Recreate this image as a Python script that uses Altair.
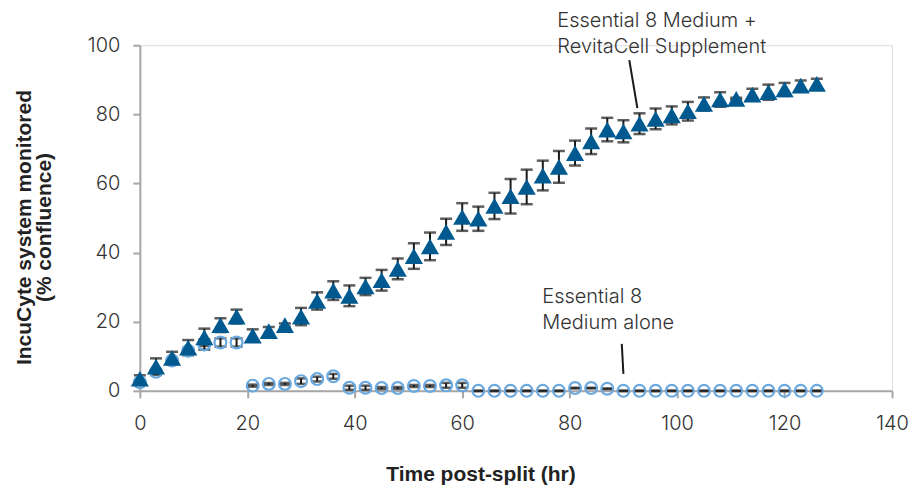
import altair as alt
import pandas as pd

hours = [0, 3, 6, 9, 12, 15, 18, 21, 24, 27, 30, 33, 36, 39, 42, 45, 48, 51, 54, 57, 60,
         63, 66, 69, 72, 75, 78, 81, 84, 87, 90, 93, 96, 99, 102, 105, 108, 111, 114, 117,
         120, 123, 126]

revita = [3.5, 7.0, 9.5, 12.5, 15.5, 19.0, 21.5, 16.0, 17.3, 19.0, 21.5, 26.0, 29.0, 27.5,
          30.2, 32.0, 35.3, 39.0, 41.8, 46.0, 50.3, 49.8, 53.5, 56.3, 59.0, 62.3, 64.8,
          68.8, 72.2, 75.6, 75.1, 77.3, 78.7, 79.7, 80.9, 83.0, 84.3, 84.5, 85.7, 86.4,
          87.2, 88.3, 88.8]
revita_err = [1.0, 2.4, 1.8, 2.2, 2.5, 2.0, 2.0, 1.8, 1.2, 0.5, 2.5, 2.5, 2.7, 3.0, 2.5,
              3.0, 3.0, 3.7, 4.0, 3.8, 4.0, 3.5, 3.8, 5.0, 5.0, 4.3, 4.6, 3.6, 3.7, 3.4,
              3.2, 3.0, 3.0, 2.6, 2.7, 1.9, 2.1, 0.3, 1.7, 2.2, 1.9, 1.5, 1.5]

alone = [2.5, 5.5, 8.8, 11.6, 13.4, 14.0, 14.0, 1.5, 2.0, 2.0, 2.8, 3.4, 4.2, 0.9, 0.9,
         0.8, 0.8, 1.4, 1.4, 1.6, 1.6, 0.0, 0.0, 0.0, 0.0, 0.0, 0.0, 0.8, 0.8, 0.6, 0.0,
         0.0, 0.0, 0.0, 0.0, 0.0, 0.0, 0.0, 0.0, 0.0, 0.0, 0.0, 0.0]
alone_err = [0.5, 0.5, 0.5, 0.8, 1.5, 1.2, 1.2, 0.3, 0.3, 0.3, 0.8, 0.7, 0.7, 0.6, 0.6,
             0.3, 0.3, 0.3, 0.3, 0.7, 0.7, 0.1, 0.1, 0.1, 0.1, 0.1, 0.1, 0.1, 0.1, 0.1,
             0.1, 0.1, 0.1, 0.1, 0.1, 0.1, 0.1, 0.1, 0.1, 0.1, 0.1, 0.1, 0.1]

ann_text = ["Essential 8 Medium +", "RevitaCell Supplement", "Essential 8", "Medium alone"]
ann_x = [77.7, 77.7, 74.9, 74.9]
ann_y = [106.9, 99.6, 27.2, 19.7]

lead_x = [91.1, 89.7]
lead_y = [95.7, 13.6]
lead_x2 = [92.6, 90.0]
lead_y2 = [81.8, 4.9]

LIGHT = "Inter"
BOLD = "Liberation Sans"

df_r = pd.DataFrame({"t": hours, "v": revita, "e": revita_err})
df_a = pd.DataFrame({"t": hours, "v": alone, "e": alone_err})
for d in (df_r, df_a):
    d["lo"] = d["v"] - d["e"]
    d["hi"] = d["v"] + d["e"]
df_err = pd.concat([df_r, df_a], ignore_index=True)

df_ann = pd.DataFrame({"text": ann_text, "x": ann_x, "y": ann_y})
df_lead = pd.DataFrame({"x": lead_x, "y": lead_y, "x2": lead_x2, "y2": lead_y2})

xscale = alt.Scale(domain=[0, 140], nice=False)
yscale = alt.Scale(domain=[0, 100], nice=False)

common = dict(grid=False, domainColor="#a6a6a6", domainWidth=2, tickColor="#a6a6a6",
              tickWidth=2, tickSize=7, labelFont=LIGHT, labelFontWeight=300,
              labelFontSize=20, labelColor="#333333", labelFlush=False,
              titleFont=BOLD, titleFontSize=21, titleFontWeight="bold",
              titleColor="#222222", titleBaseline="middle", titleAlign="center",
              titleAnchor="start")

xaxis = alt.Axis(values=[0, 20, 40, 60, 80, 100, 120, 140], title="Time post-split (hr)",
                 labelPadding=16, titleX=341, titleY=84, **common)
yaxis = alt.Axis(values=[0, 20, 40, 60, 80, 100],
                 title=["IncuCyte system monitored", "(% confluence)"],
                 labelPadding=13, titleX=-115, titleY=182, titleAngle=270,
                 titleLineHeight=20, **common)

x = alt.X("t:Q", scale=xscale, axis=xaxis)
y = alt.Y("v:Q", scale=yscale, axis=yaxis)

err_rule = alt.Chart(df_err).mark_rule(color="#1a1a1a", strokeWidth=2).encode(
    x=alt.X("t:Q", scale=xscale), y=alt.Y("lo:Q", scale=yscale), y2="hi:Q")
cap_hi = alt.Chart(df_err).mark_tick(color="#1a1a1a", thickness=2.5, size=12,
                                     orient="horizontal").encode(
    x=alt.X("t:Q", scale=xscale), y=alt.Y("hi:Q", scale=yscale))
cap_lo = alt.Chart(df_err).mark_tick(color="#1a1a1a", thickness=2.5, size=12,
                                     orient="horizontal").encode(
    x=alt.X("t:Q", scale=xscale), y=alt.Y("lo:Q", scale=yscale))

circles = alt.Chart(df_a).mark_point(shape="circle", filled=False, stroke="#6aa9e0",
                                      strokeWidth=2.2, size=140, opacity=1).encode(x=x, y=y)
triangles = alt.Chart(df_r).mark_point(shape="triangle-up", filled=True, fill="#005a8f",
                                        size=330, opacity=1).encode(x=x, y=y)

ann = alt.Chart(df_ann).mark_text(align="left", baseline="middle", font=LIGHT,
                                  fontWeight=300, fontSize=20, color="#333333").encode(
    x=alt.X("x:Q", scale=xscale), y=alt.Y("y:Q", scale=yscale), text="text:N")
leads = alt.Chart(df_lead).mark_rule(color="#1a1a1a", strokeWidth=2).encode(
    x=alt.X("x:Q", scale=xscale), y=alt.Y("y:Q", scale=yscale),
    x2="x2:Q", y2="y2:Q")

chart = alt.layer(err_rule, cap_hi, cap_lo, circles, triangles, leads, ann).properties(
    width=753, height=346,
    autosize=alt.AutoSizeParams(type="none"),
    padding={"left": 132, "top": 37, "right": 24, "bottom": 100},
).configure_view(stroke=None).configure(background="white")

chart.save("out.html", embed_options={"renderer": "svg", "actions": False})
